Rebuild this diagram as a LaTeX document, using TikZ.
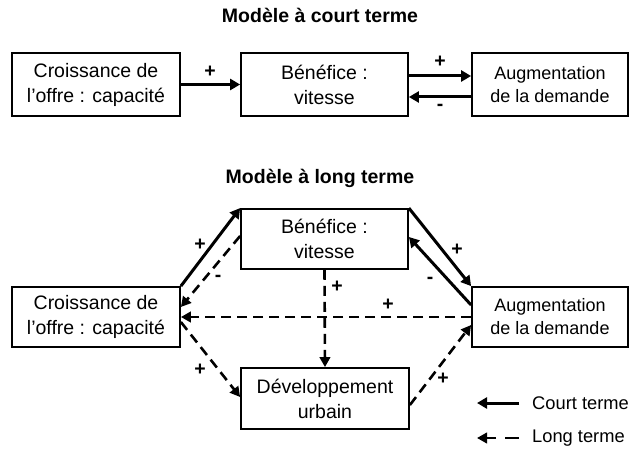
\documentclass[tikz,border=0pt]{standalone}
\usepackage{fontspec}
\setmainfont{Liberation Sans}
\usetikzlibrary{arrows.meta}
\begin{document}
\begin{tikzpicture}[x=1pt,y=-1pt,
  box/.style={draw,line width=1.8pt,inner sep=0pt,align=center,font=\fontsize{19.5}{25}\selectfont},
  boxsm/.style={box,font=\fontsize{18}{23}\selectfont},
  ttl/.style={font=\fontsize{19.5}{23}\selectfont\bfseries,inner sep=0pt},
  sgn/.style={font=\fontsize{19.5}{23}\selectfont\bfseries,inner sep=0pt},
  leg/.style={font=\fontsize{18.3}{22}\selectfont,inner sep=0pt,anchor=west},
  shortarr/.style={line width=3pt,-{Triangle[length=10pt,width=11pt]}},
  longarr/.style={line width=2.6pt,dash pattern=on 10pt off 6pt,-{Triangle[length=10pt,width=10.5pt]}},
  legdash/.style={longarr,dash pattern=on 14pt off 9pt},
]
\useasboundingbox (0,0) rectangle (629,449);

% ---- short-term model ----
\node[ttl] (t1) at (320,15) {Modèle à court terme};
\node[box,minimum width=168pt,minimum height=63pt] (a1) at (96,84.5) {Croissance de\\l’offre : capacité};
\node[box,minimum width=167pt,minimum height=63pt] (b1) at (324.5,84.5) {Bénéfice :\\vitesse};
\node[boxsm,minimum width=156pt,minimum height=63pt] (c1) at (550,84.5) {Augmentation\\de la demande};

\draw[shortarr] (a1.east) -- (b1.west);
\draw[shortarr] ([yshift=8.5pt]b1.east) -- ([yshift=8.5pt]c1.west);
\draw[shortarr] ([yshift=-12.5pt]c1.west) -- ([yshift=-12.5pt]b1.east);
\node[sgn] (p1) at (210,72) {+};
\node[sgn] (p2) at (440,62) {+};
\node[sgn] (m1) at (440,107) {-};

% ---- long-term model ----
\node[ttl] (t2) at (320,178) {Modèle à long terme};
\node[box,minimum width=168pt,minimum height=60pt] (a2) at (96,317) {Croissance de\\l’offre : capacité};
\node[box,minimum width=167pt,minimum height=60pt] (b2) at (324.5,239) {Bénéfice :\\vitesse};
\node[boxsm,minimum width=156pt,minimum height=60pt] (c2) at (550,317) {Augmentation\\de la demande};
\node[box,minimum width=168pt,minimum height=61pt] (d2) at (325,398.5) {Développement\\urbain};

\draw[shortarr] (a2.north east) -- (b2.north west);
\draw[longarr] ([yshift=3pt]b2.west) -- ([yshift=10pt]a2.east);
\draw[longarr] (c2.west) -- (a2.east);
\draw[longarr] (b2.south) -- (d2.north);
\draw[longarr] ([yshift=-5pt]a2.east) -- ([yshift=1.5pt]d2.west);
\draw[longarr] ([yshift=-6.5pt]d2.east) -- ([yshift=-8pt]c2.west);
\draw[shortarr] (b2.north east) -- (c2.north west);
\draw[shortarr] ([yshift=12pt]c2.west) -- ([yshift=2pt]b2.east);

\node[sgn] (p3) at (200,245) {+};
\node[sgn] (m2) at (218,278) {-};
\node[sgn] (p4) at (337,287) {+};
\node[sgn] (p5) at (388,305) {+};
\node[sgn] (p6) at (200,370) {+};
\node[sgn] (p7) at (443,379) {+};
\node[sgn] (p8) at (457,250) {+};
\node[sgn] (m3) at (430,280) {-};

% ---- legend ----
\coordinate (l1a) at (519,403);
\coordinate (l1b) at (477,403);
\coordinate (l2a) at (519,438);
\coordinate (l2b) at (477,438);
\draw[shortarr] (l1a) -- (l1b);
\draw[legdash] (l2a) -- (l2b);
\node[leg] (lt1) at (532,403) {Court terme};
\node[leg] (lt2) at (532,438) {Long terme};
\end{tikzpicture}
\end{document}
